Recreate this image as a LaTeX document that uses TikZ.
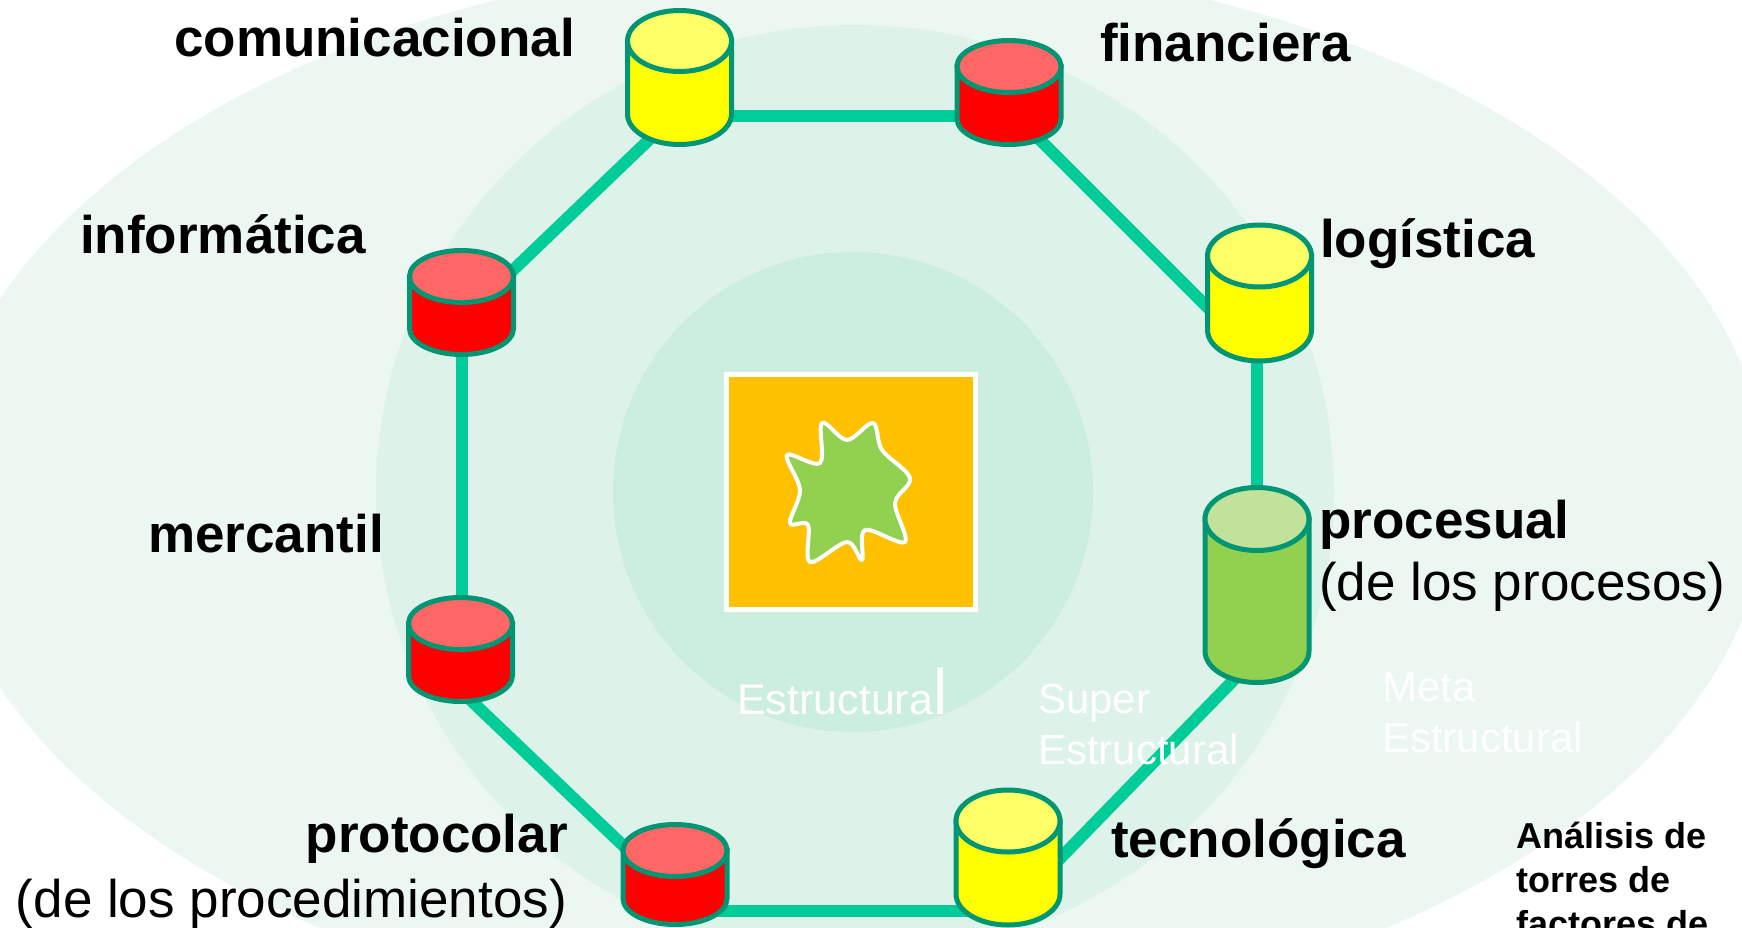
\documentclass[tikz,border=0pt]{standalone}
\usepackage{fontspec}
\setmainfont{Liberation Sans}
\definecolor{outerbg}{RGB}{237,247,242}
\definecolor{midbg}{RGB}{221,242,233}
\definecolor{innerbg}{RGB}{204,238,223}
\definecolor{linkgreen}{RGB}{0,204,153}
\definecolor{towerstroke}{RGB}{0,150,115}
\definecolor{ybody}{RGB}{255,255,0}
\definecolor{ytop}{RGB}{255,255,102}
\definecolor{rbody}{RGB}{255,0,0}
\definecolor{rtop}{RGB}{255,102,102}
\definecolor{gbody}{RGB}{146,208,80}
\definecolor{gtop}{RGB}{192,226,154}
\definecolor{coreorange}{RGB}{255,192,0}
\newcommand\tower[7]{%
  \filldraw[towerline, fill=#6] (#2-52,#3) -- (#2-52,#4)
     arc[start angle=180,end angle=360,x radius=52pt,y radius=#5pt] -- (#2+52,#3) -- cycle;
  \filldraw[towerline, fill=#7] (#2,#3) ellipse[x radius=52pt, y radius=#5pt];
  \coordinate (#1) at (#2,{(#3+#4)/2});
}
\begin{document}
\begin{tikzpicture}[x=1pt,y=-1pt,
  towerline/.style={draw=towerstroke, line width=5pt},
  conn/.style={draw=linkgreen, line width=12pt},
  lab/.style={inner sep=0pt, font=\bfseries\fontsize{53}{53}\selectfont},
  sublab/.style={inner sep=0pt, font=\fontsize{53}{53}\selectfont},
  ringlab/.style={inner sep=0pt, text=white, font=\fontsize{42}{42}\selectfont},
  notelab/.style={inner sep=0pt, font=\bfseries\fontsize{36}{36}\selectfont}]
\useasboundingbox (0,0) rectangle (1742,928);
\clip (0,0) rectangle (1742,928);
\fill[white] (0,0) rectangle (1742,928);
% rings
\fill[outerbg] (853,493) ellipse[x radius=915pt, y radius=535pt];
\fill[midbg] (855,492) ellipse[x radius=479pt, y radius=467pt];
\fill[innerbg] (853,492) circle[radius=240pt];
% connector end points
\coordinate (e1a) at (679,116);  \coordinate (e1b) at (1009,116);
\coordinate (e2a) at (1009,109); \coordinate (e2b) at (1240,340);
\coordinate (e3a) at (1257,330); \coordinate (e3b) at (1257,520);
\coordinate (e4a) at (1257,656); \coordinate (e4b) at (1008,912);
\coordinate (e5a) at (1008,911); \coordinate (e5b) at (675,911);
\coordinate (e6a) at (675,895);  \coordinate (e6b) at (460,690);
\coordinate (e7a) at (462,650);  \coordinate (e7b) at (462,330);
\coordinate (e8a) at (461,320);  \coordinate (e8b) at (679,111);
\draw[conn] (e1a) -- (e1b);
\draw[conn] (e2a) -- (e2b);
\draw[conn] (e3a) -- (e3b);
\draw[conn] (e4a) -- (e4b);
\draw[conn] (e5a) -- (e5b);
\draw[conn] (e6a) -- (e6b);
\draw[conn] (e7a) -- (e7b);
\draw[conn] (e8a) -- (e8b);
% towers
\tower{tcom}{679.5}{41}{114}{30.5}{ybody}{ytop}
\tower{tfin}{1009}{66.5}{118.5}{26}{rbody}{rtop}
\tower{tlog}{1259.5}{256}{330}{31}{ybody}{ytop}
\tower{tpro}{1257}{519}{651}{31.5}{gbody}{gtop}
\tower{ttec}{1008}{821}{894}{31}{ybody}{ytop}
\tower{tprot}{675}{850.5}{898.5}{26}{rbody}{rtop}
\tower{tmer}{460.5}{623.5}{675.5}{26}{rbody}{rtop}
\tower{tinf}{461.5}{276.5}{328.5}{26}{rbody}{rtop}
% core
\filldraw[fill=coreorange, draw=white, line width=5pt] (726.5,374.5) rectangle (975.5,609.5);
\filldraw[fill=gbody, draw=white, line width=4pt, line join=round]
  plot[smooth cycle, tension=0.55] coordinates {(822,423) (847,440) (873,423) (882,450) (910,478) (895,503) (905,542) (865,530) (862,560) (847,542) (810,562) (808,525) (790,523) (800,490) (787,455) (820,463)};
% ring labels
\node[ringlab, anchor=base west, font=\fontsize{43}{43}\selectfont] (rl1) at (737,714) {Estructura{\fontsize{64}{64}\selectfont l}};
\node[ringlab, anchor=base west] (rl2) at (1038,713) {Super};
\node[ringlab, anchor=base west] (rl3) at (1038,764) {Estructural};
\node[ringlab, anchor=base west] (rl4) at (1382,701) {Meta};
\node[ringlab, anchor=base west] (rl5) at (1382,752) {Estructural};
% tower labels
\node[lab, anchor=base west] (lcom) at (174,57) {comunicacional};
\node[lab, anchor=base west] (lfin) at (1100,62) {financiera};
\node[lab, anchor=base west] (linf) at (80,253) {informática};
\node[lab, anchor=base west] (llog) at (1320,257) {logística};
\node[lab, anchor=base west] (lmer) at (148,552) {mercantil};
\node[lab, anchor=base west] (lpro) at (1319,538) {procesual};
\node[sublab, anchor=base west] (lpro2) at (1319,600) {(de los procesos)};
\node[lab, anchor=base west] (ltec) at (1111,857) {tecnológica};
\node[lab, anchor=base east] (lprot) at (568,852) {protocolar};
\node[sublab, anchor=base east] (lprot2) at (567,917) {(de los procedimientos)};
% note
\node[notelab, anchor=base west] (n1) at (1516,848) {Análisis de};
\node[notelab, anchor=base west] (n2) at (1516,892) {torres de};
\node[notelab, anchor=base west] (n3) at (1516,936) {factores de};
\end{tikzpicture}
\end{document}
